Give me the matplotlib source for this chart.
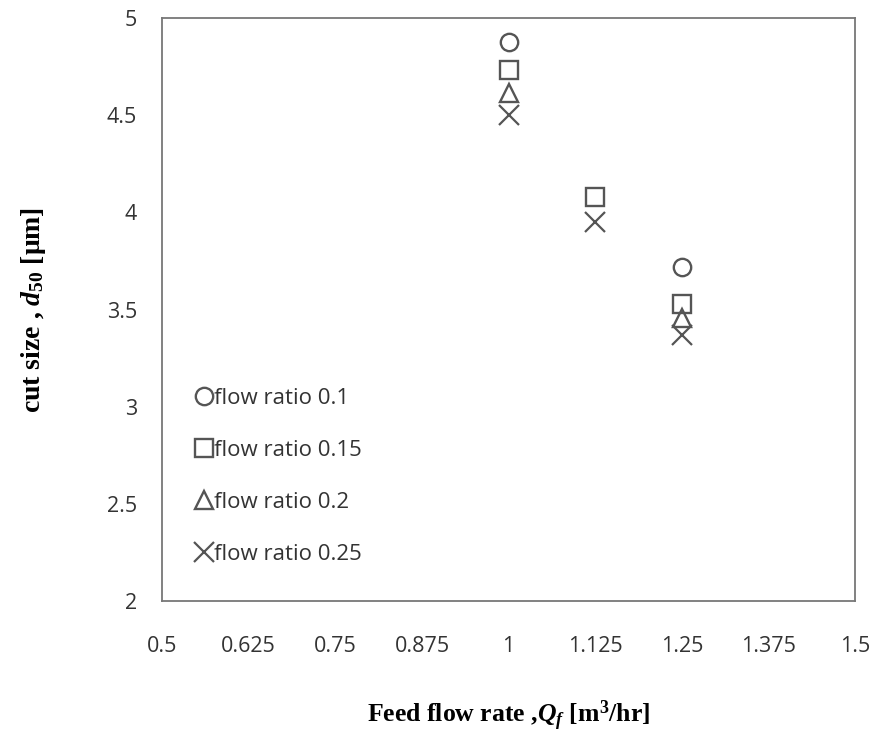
import matplotlib.pyplot as plt

# data (circle and triangle at 1.125 are hidden in the original)
feed_rate = [1.0, 1.125, 1.25]
ratio_01 = [4.876, float("nan"), 3.718]
ratio_015 = [4.732, 4.079, 3.528]
ratio_02 = [4.614, float("nan"), 3.456]
ratio_025 = [4.501, 3.95, 3.369]

series = [
    ("flow ratio 0.1", ratio_01, "o"),
    ("flow ratio 0.15", ratio_015, "s"),
    ("flow ratio 0.2", ratio_02, "^"),
    ("flow ratio 0.25", ratio_025, "x"),
]

plt.rcParams["font.family"] = ["Open Sans", "DejaVu Sans"]
plt.rcParams["mathtext.fontset"] = "custom"
plt.rcParams["mathtext.it"] = "Liberation Serif:italic:bold"
plt.rcParams["mathtext.rm"] = "Liberation Serif:bold"
plt.rcParams["mathtext.bf"] = "Liberation Serif:bold"

fig = plt.figure(figsize=(8.71, 7.35), dpi=100)
ax = fig.add_axes([0.186, 0.182, 0.796, 0.7935])

mc = "#555555"
for label, vals, m in series:
    if m == "x":
        ax.plot(feed_rate, vals, linestyle="none", marker=m, markersize=15,
                color=mc, markeredgewidth=1.6, label=label)
    else:
        ax.plot(feed_rate, vals, linestyle="none", marker=m, markersize=12.5,
                markerfacecolor="none", markeredgecolor=mc,
                markeredgewidth=1.7, label=label)

ax.set_xlim(0.5, 1.5)
ax.set_ylim(2, 5)
ax.set_xticks([0.5, 0.625, 0.75, 0.875, 1, 1.125, 1.25, 1.375, 1.5])
ax.set_xticklabels(["0.5", "0.625", "0.75", "0.875", "1", "1.125", "1.25", "1.375", "1.5"])
ax.set_yticks([2, 2.5, 3, 3.5, 4, 4.5, 5])
ax.set_yticklabels(["2", "2.5", "3", "3.5", "4", "4.5", "5"])
ax.tick_params(axis="x", length=0, pad=25, labelsize=15.5, colors="#333333")
ax.tick_params(axis="y", length=0, pad=18, labelsize=15.5, colors="#333333")
for s in ax.spines.values():
    s.set_color("#777777")
    s.set_linewidth(1.3)

ax.set_xlabel(r"Feed flow rate ,$\mathit{Q_f}$ [m$^3$/hr]", family="Liberation Serif",
              fontweight="bold", fontsize=18.5, labelpad=30)
ax.set_ylabel(r"cut size , $\mathit{d_{50}}$ [$\mathrm{\mu}$m]", family="Liberation Serif",
              fontweight="bold", fontsize=20, labelpad=42)

ax.legend(loc="upper left", bbox_to_anchor=(0.022, 0.4), frameon=False,
          fontsize=16, handlelength=0.6, handletextpad=0.15, labelspacing=1.4,
          labelcolor="#333333")

fig.savefig("out.png", dpi=100)
